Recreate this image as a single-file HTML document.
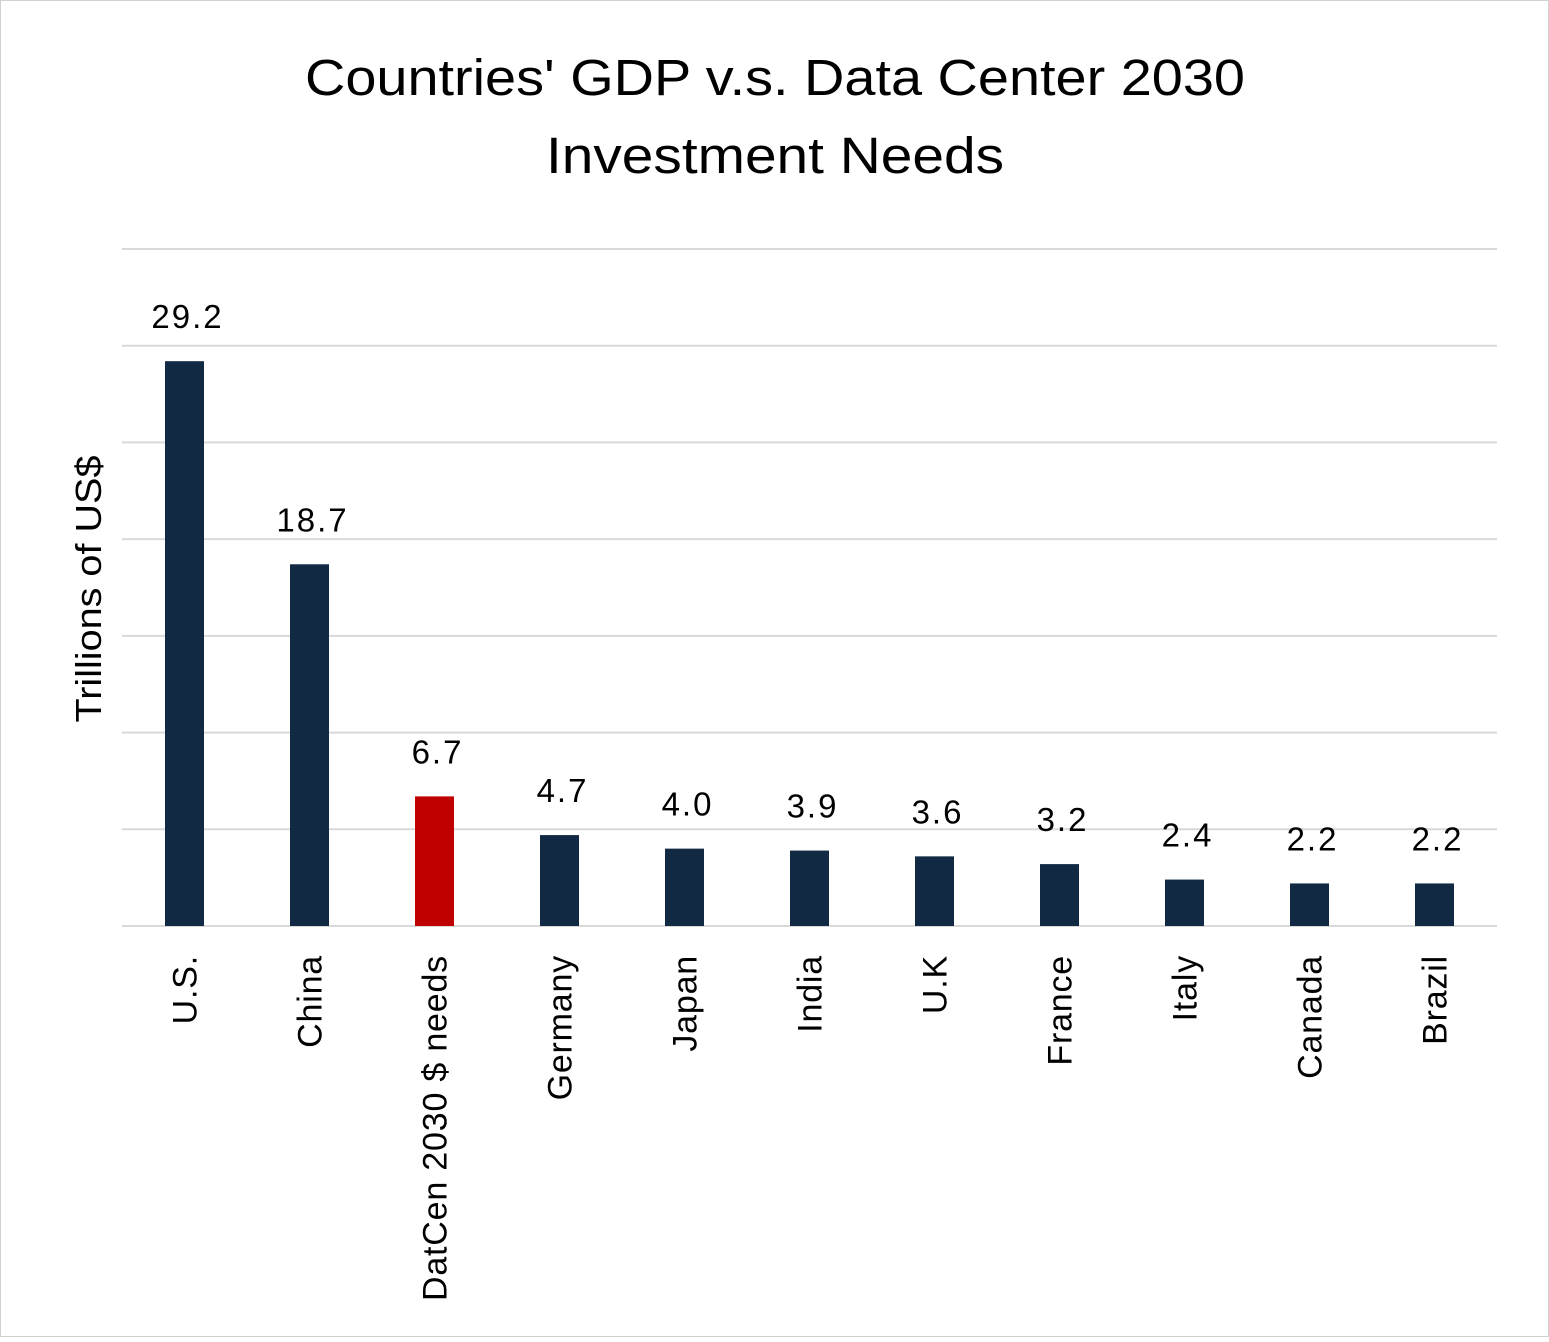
<!DOCTYPE html>
<html><head><meta charset="utf-8"><style>
html,body{margin:0;padding:0;background:#fff}
svg text{font-family:"Liberation Sans",sans-serif;fill:#000}
</style></head><body>
<svg width="1549" height="1337" viewBox="0 0 1549 1337">
<rect x="0.5" y="0.5" width="1548" height="1336" fill="#fff" stroke="#d0d0d0"/>
<text x="775" y="95" font-size="51" text-anchor="middle" textLength="940" lengthAdjust="spacingAndGlyphs">Countries' GDP v.s. Data Center 2030</text>
<text x="775" y="173" font-size="51" text-anchor="middle" textLength="458" lengthAdjust="spacingAndGlyphs">Investment Needs</text>
<text transform="translate(101,589) rotate(-90)" font-size="36" text-anchor="middle" textLength="267" lengthAdjust="spacingAndGlyphs">Trillions of US$</text>
<g id="grid"></g><g id="bars"></g><g id="labels"></g>
</svg>
<script>
const categories=["U.S.","China","DatCen 2030 $ needs","Germany","Japan","India","U.K","France","Italy","Canada","Brazil"];
const values=[29.2,18.7,6.7,4.7,4.0,3.9,3.6,3.2,2.4,2.2,2.2];
const valueLabels=["29.2","18.7","6.7","4.7","4.0","3.9","3.6","3.2","2.4","2.2","2.2"];
const gridTicks=[0,5,10,15,20,25,30,35];
const NS="http://www.w3.org/2000/svg";
const x0=122,x1=1497,yBase=926,yTop=249,vMax=35;
const y=v=>yBase-(v/vMax)*(yBase-yTop);
const band=(x1-x0)/categories.length;
const xc=i=>x0+band*(i+0.5);
const grid=document.getElementById('grid'),bars=document.getElementById('bars'),labels=document.getElementById('labels');
gridTicks.forEach(t=>{const l=document.createElementNS(NS,'line');
l.setAttribute('x1',x0);l.setAttribute('x2',x1);l.setAttribute('y1',y(t));l.setAttribute('y2',y(t));
l.setAttribute('stroke','#d9d9d9');l.setAttribute('stroke-width','2');


grid.appendChild(l);});
categories.forEach((c,i)=>{
const r=document.createElementNS(NS,'rect');const w=39;
r.setAttribute('x',xc(i)-w/2);r.setAttribute('width',w);r.setAttribute('y',y(values[i]));r.setAttribute('height',yBase-y(values[i]));
r.setAttribute('fill',i===2?'#c00000':'#112942');


bars.appendChild(r);
const t=document.createElementNS(NS,'text');t.setAttribute('x',xc(i)+3);t.setAttribute('y',y(values[i])-33);
t.setAttribute('font-size','33');t.setAttribute('letter-spacing','2');t.setAttribute('text-anchor','middle');t.textContent=valueLabels[i];


labels.appendChild(t);
const ct=document.createElementNS(NS,'text');ct.setAttribute('transform','translate('+(xc(i)+12)+',955) rotate(-90)');
ct.setAttribute('font-size','34');ct.setAttribute('letter-spacing','0.8');ct.setAttribute('text-anchor','end');ct.textContent=c;


labels.appendChild(ct);});
</script>
</body></html>
